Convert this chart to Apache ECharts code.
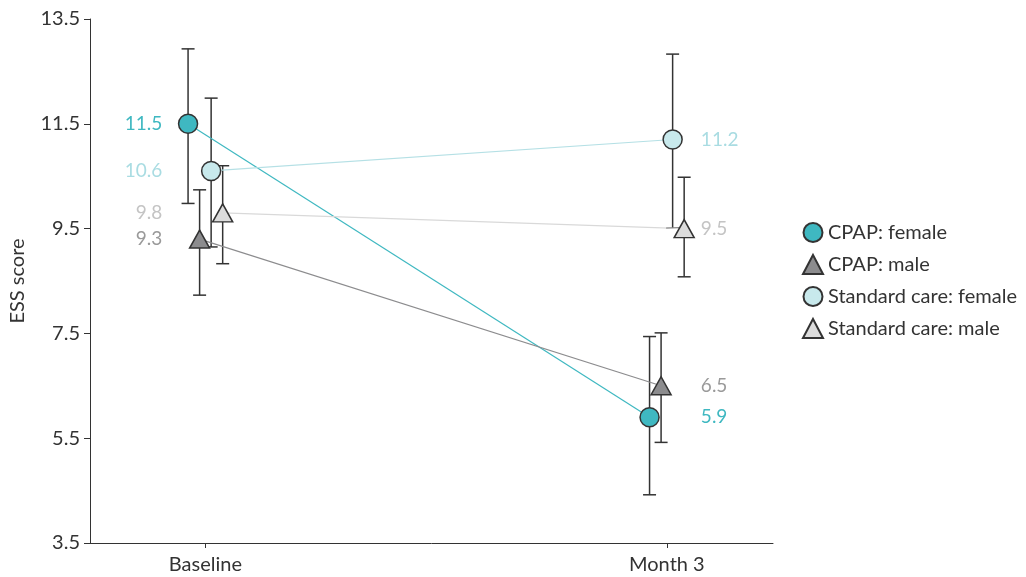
<!DOCTYPE html>
<html>
<head>
<meta charset="utf-8">
<title>ESS score by group</title>
<script src="https://cdn.jsdelivr.net/npm/echarts@6/dist/echarts.min.js"></script>
<style>
  html, body { margin: 0; padding: 0; background: #ffffff; }
  #chart { width: 1026px; height: 577px; }
</style>
</head>
<body>
<div id="chart"></div>
<script>
// Time points on the x axis
const timepoints = ['Baseline', 'Month 3'];

// Group names (legend order)
const groups = ['CPAP: female', 'CPAP: male', 'Standard care: female', 'Standard care: male'];

// Mean ESS score per group at each time point
const cpapFemaleMean = [11.5, 5.9];
const cpapMaleMean = [9.3, 6.5];
const careFemaleMean = [10.6, 11.2];
const careMaleMean = [9.8, 9.5];

// Lower / upper ends of the error bars
const cpapFemaleLow = [9.98, 4.42];
const cpapFemaleHigh = [12.93, 7.44];
const cpapMaleLow = [8.23, 5.42];
const cpapMaleHigh = [10.24, 7.51];
const careFemaleLow = [9.15, 9.51];
const careFemaleHigh = [11.99, 12.83];
const careMaleLow = [8.83, 8.58];
const careMaleHigh = [10.70, 10.48];

// Y axis range
const yMin = 3.5, yMax = 13.5, yStep = 2;

// Styling per group
const FONT = 'Lato, "Noto Sans", sans-serif';
const styles = [
  { fill: '#3fb8c1', line: '#3fb8c1', label: '#3fb8c1', symbol: 'circle', size: 19 },
  { fill: '#8c8c8e', line: '#8c8c8e', label: '#9a9a9a', symbol: 'triangle', size: [20, 18] },
  { fill: '#c8e9ec', line: '#b5e0e5', label: '#a9dce2', symbol: 'circle', size: 19 },
  { fill: '#dcdcdc', line: '#d9d9d9', label: '#c4c4c4', symbol: 'triangle', size: [20, 18] }
];

const means = [cpapFemaleMean, cpapMaleMean, careFemaleMean, careMaleMean];
const lows = [cpapFemaleLow, cpapMaleLow, careFemaleLow, careMaleLow];
const highs = [cpapFemaleHigh, cpapMaleHigh, careFemaleHigh, careMaleHigh];

// Horizontal dodge so the four groups don't overlap at a time point
const dodge = [-0.0375, -0.0125, 0.0125, 0.0375];

const series = [];

// Error bars (drawn first so markers sit on top)
groups.forEach((g, gi) => {
  const data = timepoints.map((t, ti) => [ti + dodge[gi], lows[gi][ti], highs[gi][ti]]);
  series.push({
    type: 'custom',
    name: g + ' CI',
    silent: true,
    z: 1,
    data: data,
    encode: { x: 0, y: [1, 2] },
    renderItem: function (params, api) {
      const x = api.value(0);
      const lo = api.coord([x, api.value(1)]);
      const hi = api.coord([x, api.value(2)]);
      const cap = 6.5;
      const style = { stroke: '#333333', lineWidth: 1.5, fill: null };
      return {
        type: 'group',
        children: [
          { type: 'line', shape: { x1: lo[0], y1: lo[1], x2: hi[0], y2: hi[1] }, style: style },
          { type: 'line', shape: { x1: lo[0] - cap, y1: lo[1], x2: lo[0] + cap, y2: lo[1] }, style: style },
          { type: 'line', shape: { x1: hi[0] - cap, y1: hi[1], x2: hi[0] + cap, y2: hi[1] }, style: style }
        ]
      };
    }
  });
});

// Connecting lines between time points
groups.forEach((g, gi) => {
  series.push({
    type: 'line',
    name: g + ' trend',
    silent: true,
    z: 2,
    showSymbol: false,
    symbol: 'none',
    lineStyle: { color: styles[gi].line, width: 1.2 },
    data: timepoints.map((t, ti) => [ti + dodge[gi], means[gi][ti]])
  });
});

// Mean markers
groups.forEach((g, gi) => {
  series.push({
    type: 'scatter',
    name: g,
    z: 4,
    symbol: styles[gi].symbol,
    symbolSize: styles[gi].size,
    itemStyle: { color: styles[gi].fill, borderColor: '#333333', borderWidth: 1.5, opacity: 1 },
    data: timepoints.map((t, ti) => [ti + dodge[gi], means[gi][ti]])
  });
});

// Value labels: left of the baseline markers, right of the month 3 markers
groups.forEach((g, gi) => {
  series.push({
    type: 'custom',
    name: g + ' value',
    silent: true,
    z: 5,
    data: timepoints.map((t, ti) => [ti, means[gi][ti]]),
    renderItem: function (params, api) {
      const ti = api.value(0);
      const v = api.value(1);
      const p = api.coord([ti, v]);
      const first = ti === 0;
      return {
        type: 'text',
        x: first ? p[0] - 43 : p[0] + 34,
        y: p[1],
        style: {
          text: v.toFixed(1),
          fill: styles[gi].label,
          font: '19px ' + FONT,
          align: first ? 'right' : 'left',
          verticalAlign: 'middle'
        }
      };
    }
  });
});

const chart = echarts.init(document.getElementById('chart'), null, { renderer: 'canvas' });
chart.setOption({
  animation: false,
  backgroundColor: '#ffffff',
  textStyle: { fontFamily: FONT },
  grid: { left: 88, right: 253, top: 19, bottom: 34 },
  legend: {
    orient: 'vertical',
    left: 797,
    top: 217,
    itemWidth: 20,
    itemHeight: 19,
    itemGap: 11,
    textStyle: { fontSize: 20, color: '#333333', fontFamily: FONT },
    data: groups.map(g => ({ name: g }))
  },
  xAxis: {
    type: 'value',
    min: -0.25,
    max: 1.23,
    splitLine: { show: false },
    axisLine: { onZero: false, lineStyle: { color: '#333333', width: 1 } },
    axisTick: { length: 5, customValues: [0, 1], lineStyle: { color: '#333333' } },
    axisLabel: {
      customValues: [0, 1],
      margin: 12,
      fontSize: 20,
      color: '#333333',
      formatter: v => timepoints[Math.round(v)]
    }
  },
  yAxis: {
    type: 'value',
    min: yMin,
    max: yMax,
    interval: yStep,
    name: 'ESS score',
    nameLocation: 'middle',
    nameGap: 62,
    nameTextStyle: { fontSize: 20, color: '#333333' },
    splitLine: { show: false },
    axisLine: { show: true, onZero: false, lineStyle: { color: '#333333', width: 1 } },
    axisTick: { show: true, length: 6, lineStyle: { color: '#333333' } },
    axisLabel: { fontSize: 20, color: '#333333', margin: 10, formatter: v => v.toFixed(1) }
  },
  series: series
});
</script>
</body>
</html>
